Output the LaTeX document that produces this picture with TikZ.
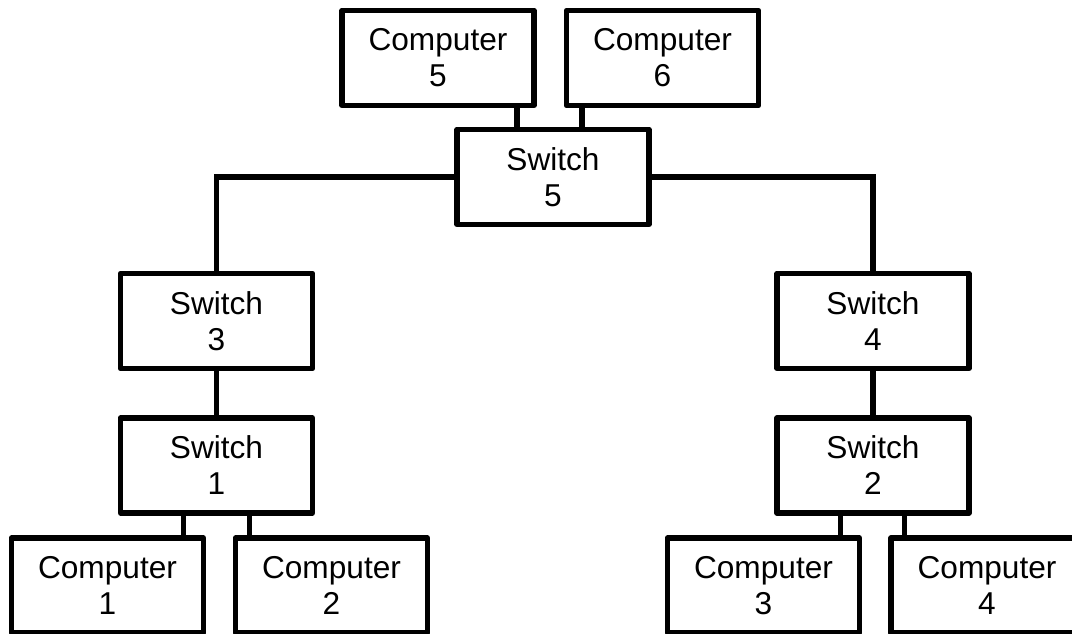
\documentclass[tikz,border=0pt]{standalone}
\usepackage{fontspec}
\setmainfont{Liberation Sans}

\begin{document}
\begin{tikzpicture}[
    x=0.02cm, y=0.02cm,
    box/.style={draw, line width=0.11cm, line join=round, align=center, minimum width=3.84cm, minimum height=1.9cm, inner sep=0pt, font=\fontsize{18}{20.5}\selectfont},
    link/.style={draw, line width=0.11cm}
]
    \useasboundingbox (0,0) rectangle (1072,634);

    \node[box] (comp5) at (438,576) {Computer\\5};
    \node[box] (comp6) at (662.5,576) {Computer\\6};
    \node[box] (sw5) at (553,457) {Switch\\5};
    \node[box] (sw3) at (216.5,313) {Switch\\3};
    \node[box] (sw1) at (216.5,168.5) {Switch\\1};
    \node[box] (sw4) at (873,313) {Switch\\4};
    \node[box] (sw2) at (873,168.5) {Switch\\2};
    \node[box] (comp1) at (107.5,48.5) {Computer\\1};
    \node[box] (comp2) at (331.5,48.5) {Computer\\2};
    \node[box] (comp3) at (763.5,48.5) {Computer\\3};
    \node[box] (comp4) at (987,48.5) {Computer\\4};

    % short stubs between switches and computers
    \coordinate (s5a) at ([xshift=-0.72cm]sw5.north);
    \coordinate (s5b) at ([xshift=0.58cm]sw5.north);
    \coordinate (s1a) at ([xshift=-0.66cm]sw1.south);
    \coordinate (s1b) at ([xshift=0.66cm]sw1.south);
    \coordinate (s2a) at ([xshift=-0.65cm]sw2.south);
    \coordinate (s2b) at ([xshift=0.63cm]sw2.south);

    \draw[link] (s5a) -- (s5a |- comp5.south);
    \draw[link] (s5b) -- (s5b |- comp6.south);
    \draw[link] (s1a) -- (s1a |- comp1.north);
    \draw[link] (s1b) -- (s1b |- comp2.north);
    \draw[link] (s2a) -- (s2a |- comp3.north);
    \draw[link] (s2b) -- (s2b |- comp4.north);

    \draw[link] (sw5.west) -| (sw3.north);
    \draw[link] (sw5.east) -| (sw4.north);
    \draw[link] (sw3.south) -- (sw1.north);
    \draw[link] (sw4.south) -- (sw2.north);
\end{tikzpicture}
\end{document}
